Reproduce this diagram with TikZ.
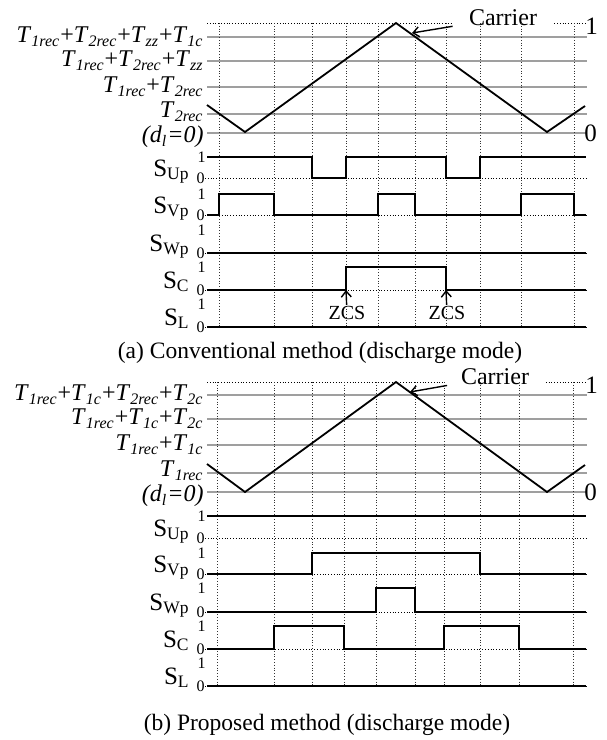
\documentclass[tikz,border=0pt]{standalone}
\usepackage{fontspec}
\setmainfont{Liberation Serif}
\usepackage{tikz}
\usetikzlibrary{arrows.meta}
\newcommand{\Tdur}[1]{\textit{T}\textsubscript{\textit{#1}}}
\newcommand{\Sig}[1]{S\textsubscript{#1}}

\begin{document}
\begin{tikzpicture}[
  x=0.5pt,y=-0.5pt,
  every node/.style={inner sep=1pt},
  grid/.style={densely dotted,black!80,line width=0.4pt},
  axis/.style={densely dotted,black,line width=0.4pt},
  level/.style={gray!75,line width=1pt},
  wave/.style={black,line width=1pt},
  carrier/.style={black,line width=0.9pt},
  tlab/.style={anchor=east,font=\fontsize{12}{12}\selectfont,inner ysep=0pt},
  slab/.style={anchor=base east,font=\fontsize{12.5}{13}\selectfont},
  tick/.style={anchor=east,font=\fontsize{8}{8}\selectfont,inner sep=0.5pt},
  rlab/.style={anchor=west,font=\fontsize{12.5}{13}\selectfont,inner sep=0pt},
  note/.style={font=\fontsize{12}{13}\selectfont,fill=white,inner xsep=8pt,inner ysep=0pt},
  zcs/.style={font=\fontsize{10}{11}\selectfont,inner sep=0.5pt},
  arr/.style={-{Straight Barb[length=3pt,width=5pt]},line width=0.7pt},
  caption/.style={font=\fontsize{11.75}{13}\selectfont}
]
\useasboundingbox (0,0) rectangle (606,740);

% (a) conventional method
\draw[axis] (207,23) -- (586,23);
\foreach \y in {37,61,87,114,133}
  \draw[level] (207,\y) -- (587,\y);
\node[note] (cara) at (503,18) {Carrier};
\foreach \x in {219,274,312,346,378,415,446,480,521,574}
  \draw[grid] (\x,23) -- (\x,327);
\draw[carrier] (207,105) -- (245,132) -- (396,23) -- (547,132) -- (585,106);
\coordinate (cara tip) at (412,33);
\draw[arr] (cara) -- (cara tip);
\node[rlab] (onea) at (585,26) {1};
\node[rlab] (zeroa) at (584,133) {0};

\node[tlab] (la1) at (206,37) {\Tdur{1rec}+\Tdur{2rec}+\Tdur{zz}+\Tdur{1c}};
\node[tlab] (la2) at (206,61) {\Tdur{1rec}+\Tdur{2rec}+\Tdur{zz}};
\node[tlab] (la3) at (206,87) {\Tdur{1rec}+\Tdur{2rec}};
\node[tlab] (la4) at (206,112) {\Tdur{2rec}};
\node[tlab] (la5) at (206,137) {\textit{(d\textsubscript{l}=0)}};

\foreach \hi/\lo/\nm in {157/178/Up,194/215/Vp,230/253/Wp,267/290/C,304/327/L}{
  \draw[axis] (205,\lo) -- (586,\lo);
  \node[tick] (one \nm a) at (207,\hi) {1};
  \node[tick] (zero \nm a) at (206,\lo) {0};
  \node[slab] (sig \nm a) at (192,\lo-2) {\Sig{\nm}};
}
\draw[wave] (207,157) -| (312,178) -| (346,157) -| (446,178) -| (480,157) -- (586,157);
\draw[wave] (207,215) -| (219,194) -| (274,215) -| (378,194) -| (415,215) -| (521,194) -| (574,215) -- (586,215);
\draw[wave] (207,253) -- (586,253);
\draw[wave] (207,290) -| (346,267) -| (446,290) -- (586,290);
\draw[wave] (207,327) -- (586,327);

\node[zcs] (zcs on) at (347,313) {ZCS};
\node[zcs] (zcs off) at (447,313) {ZCS};
\coordinate (sc on) at (346,290);
\coordinate (sc off) at (446,290);
\draw[arr] (zcs on) -- (sc on);
\draw[arr] (zcs off) -- (sc off);

\node[caption] (capa) at (320,353) {(a) Conventional method (discharge mode)};

% (b) proposed method
\draw[axis] (207,382) -- (586,382);
\foreach \y in {395,419,445,473,492}
  \draw[level] (207,\y) -- (587,\y);
\node[note] (carb) at (495,377) {Carrier};
\foreach \x in {217,274,312,344,376,415,444,480,519,573}
  \draw[grid] (\x,382) -- (\x,686);
\draw[carrier] (207,464) -- (245,492) -- (396,382) -- (547,492) -- (585,465);
\coordinate (carb tip) at (410,392);
\draw[arr] (carb) -- (carb tip);
\node[rlab] (oneb) at (585,385) {1};
\node[rlab] (zerob) at (584,492) {0};

\node[tlab] (lb1) at (206,395) {\Tdur{1rec}+\Tdur{1c}+\Tdur{2rec}+\Tdur{2c}};
\node[tlab] (lb2) at (206,419) {\Tdur{1rec}+\Tdur{1c}+\Tdur{2c}};
\node[tlab] (lb3) at (206,445) {\Tdur{1rec}+\Tdur{1c}};
\node[tlab] (lb4) at (206,471) {\Tdur{1rec}};
\node[tlab] (lb5) at (206,496) {\textit{(d\textsubscript{l}=0)}};

\foreach \hi/\lo/\nm in {516/538/Up,553/574/Vp,588/612/Wp,626/649/C,663/686/L}{
  \draw[axis] (205,\lo) -- (586,\lo);
  \node[tick] (one \nm b) at (207,\hi) {1};
  \node[tick] (zero \nm b) at (206,\lo) {0};
  \node[slab] (sig \nm b) at (192,\lo-2) {\Sig{\nm}};
}
\draw[wave] (207,516) -- (586,516);
\draw[wave] (207,574) -| (312,553) -| (480,574) -- (586,574);
\draw[wave] (207,612) -| (376,588) -| (415,612) -- (586,612);
\draw[wave] (207,649) -| (274,626) -| (344,649) -| (444,626) -| (519,649) -- (586,649);
\draw[wave] (207,686) -- (586,686);

\node[caption] (capb) at (327,725) {(b) Proposed method (discharge mode)};
\end{tikzpicture}
\end{document}
